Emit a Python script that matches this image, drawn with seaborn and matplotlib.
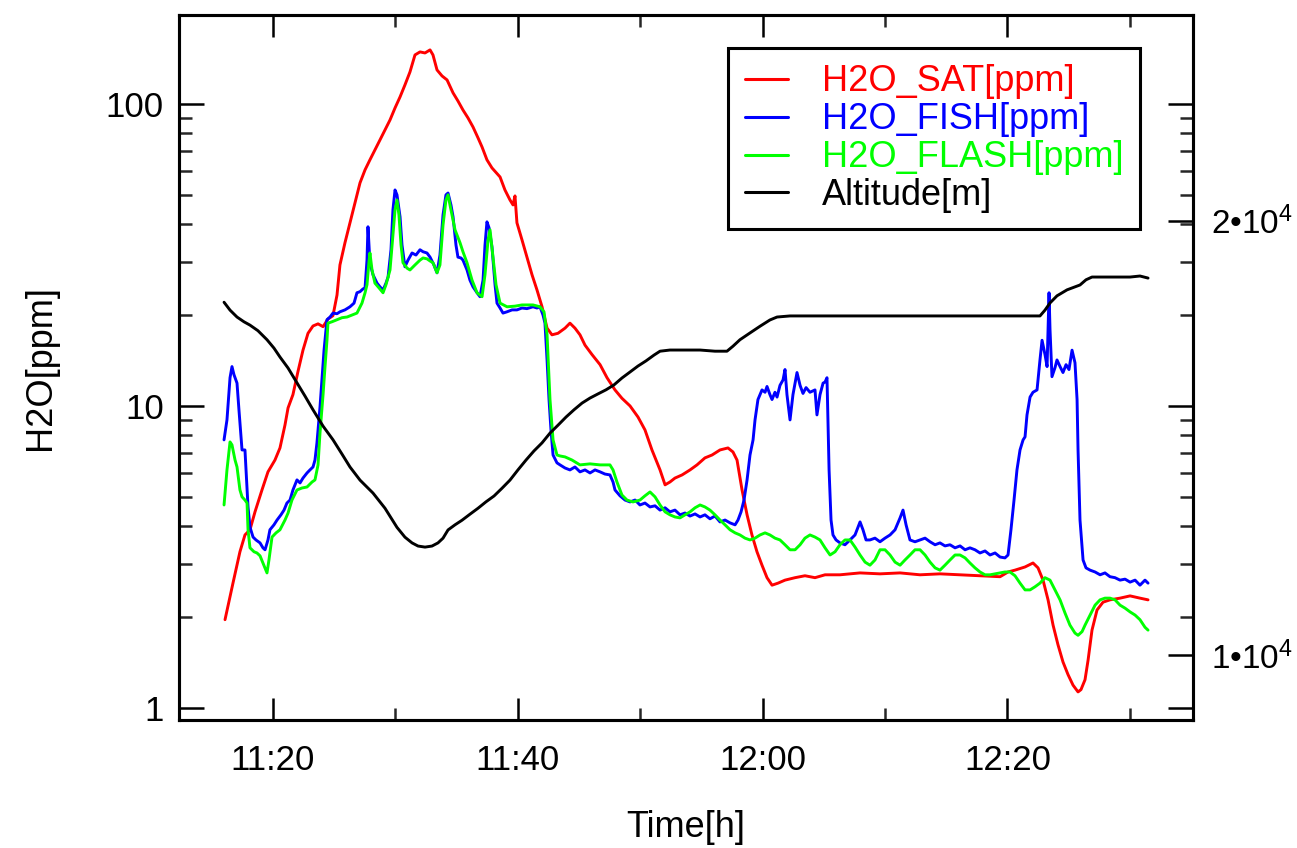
import matplotlib
matplotlib.use("Agg")
import matplotlib.pyplot as plt
from matplotlib.ticker import FixedLocator, FuncFormatter, FixedFormatter, NullLocator
import seaborn as sns

# ---- flight data: time in minutes after 11:00 ----
sat_min = [16.08, 16.73, 17.30, 17.71, 18.12, 18.53, 19.10, 19.59, 20.16, 20.57,
           20.98, 21.23, 21.63, 22.04, 22.45, 22.86, 23.27, 23.68, 24.09, 24.49,
           24.90, 25.23, 25.47, 25.88, 26.29, 26.70, 27.11, 27.52, 27.92, 28.33,
           28.74, 29.15, 29.56, 29.97, 30.38, 30.78, 31.19, 31.60, 32.01, 32.42,
           32.83, 33.07, 33.40, 33.81, 34.22, 34.71, 35.11, 35.52, 35.93, 36.34,
           36.75, 37.08, 37.48, 37.89, 38.55, 38.95, 39.36, 39.61, 39.77, 39.93,
           40.34, 40.75, 41.16, 41.57, 41.98, 42.39, 42.79, 43.28, 43.86, 44.26,
           44.67, 45.08, 45.49, 46.06, 46.72, 47.29, 47.94, 48.51, 49.17, 49.82,
           50.39, 50.96, 51.62, 52.03, 52.43, 52.84, 53.42, 54.07, 54.64, 55.29,
           55.87, 56.52, 57.17, 57.58, 57.91, 58.32, 58.73, 59.13, 59.54, 59.95,
           60.36, 60.77, 61.26, 61.83, 62.65, 63.46, 64.28, 65.10, 66.32, 67.96,
           69.59, 71.23, 72.86, 74.49, 76.13, 77.76, 79.40, 80.05, 80.62, 81.44,
           82.09, 82.50, 82.91, 83.32, 83.73, 84.13, 84.54, 84.95, 85.36, 85.77,
           86.01, 86.34, 86.59, 86.91, 87.32, 87.81, 88.38, 89.20, 90.02, 90.83,
           91.49]
sat_ppm = [1.96, 2.59, 3.29, 3.74, 3.89, 4.46, 5.27, 6.05, 6.62, 7.26,
           8.65, 9.85, 10.9, 13.0, 15.3, 17.4, 18.4, 18.7, 18.3, 19.4,
           19.9, 23.3, 29.3, 34.7, 40.4, 47.0, 54.8, 60.5, 65.3, 70.4,
           76.0, 82.0, 88.5, 97.0, 105.5, 115.6, 127.6, 145.3, 148.7, 147.5,
           151.0, 145.3, 129.6, 123.8, 120.1, 108.8, 102.3, 95.5, 89.9, 83.9,
           77.2, 72.0, 65.3, 61.4, 57.3, 51.9, 48.1, 46.3, 49.6, 40.4,
           35.5, 31.1, 27.2, 24.2, 21.3, 18.1, 17.2, 17.4, 18.1, 18.8,
           18.1, 17.2, 15.9, 14.8, 13.7, 12.4, 11.3, 10.6, 10.0, 9.19,
           8.33, 7.15, 6.14, 5.48, 5.60, 5.77, 5.91, 6.14, 6.38, 6.73,
           6.88, 7.15, 7.26, 7.04, 6.62, 5.27, 4.36, 3.74, 3.29, 2.97,
           2.70, 2.55, 2.59, 2.65, 2.70, 2.74, 2.70, 2.76, 2.76, 2.80,
           2.78, 2.80, 2.76, 2.78, 2.76, 2.74, 2.72, 2.82, 2.86, 2.93,
           3.02, 2.91, 2.65, 2.28, 1.88, 1.62, 1.42, 1.29, 1.19, 1.13,
           1.15, 1.24, 1.44, 1.81, 2.11, 2.24, 2.28, 2.31, 2.35, 2.31,
           2.28]

fish_min = [16.00, 16.24, 16.49, 16.65, 16.81, 17.06, 17.22, 17.47, 17.71, 17.96,
            18.12, 18.37, 18.61, 18.94, 19.18, 19.35, 19.59, 19.75, 20.08, 20.33,
            20.65, 20.90, 21.14, 21.39, 21.63, 21.96, 22.21, 22.45, 22.78, 23.02,
            23.27, 23.43, 23.59, 23.84, 24.00, 24.17, 24.41, 24.66, 24.90, 25.23,
            25.47, 25.88, 26.29, 26.62, 26.86, 27.11, 27.35, 27.52, 27.68, 27.76,
            27.84, 27.92, 28.17, 28.50, 28.74, 28.99, 29.23, 29.40, 29.64, 29.80,
            29.97, 30.13, 30.38, 30.54, 30.78, 31.03, 31.36, 31.68, 32.01, 32.26,
            32.58, 32.83, 33.15, 33.40, 33.64, 33.89, 34.13, 34.30, 34.54, 34.71,
            34.95, 35.11, 35.36, 35.52, 35.85, 36.09, 36.34, 36.67, 36.91, 37.16,
            37.32, 37.48, 37.65, 37.89, 38.14, 38.30, 38.55, 38.79, 39.12, 39.53,
            39.93, 40.34, 40.75, 41.24, 41.57, 41.81, 42.06, 42.22, 42.39, 42.55,
            42.71, 42.88, 43.20, 43.45, 43.86, 44.26, 44.67, 45.08, 45.49, 45.90,
            46.31, 46.72, 47.12, 47.53, 47.78, 47.94, 48.35, 48.76, 49.17, 49.58,
            49.98, 50.39, 50.80, 51.21, 51.62, 52.03, 52.43, 52.84, 53.25, 53.66,
            54.07, 54.48, 54.89, 55.29, 55.70, 56.11, 56.52, 56.93, 57.34, 57.75,
            57.99, 58.24, 58.48, 58.73, 58.97, 59.22, 59.38, 59.62, 59.95, 60.20,
            60.36, 60.60, 60.77, 61.01, 61.18, 61.42, 61.67, 61.83, 61.99, 62.24,
            62.48, 62.81, 63.06, 63.30, 63.55, 63.87, 64.28, 64.44, 64.69, 64.94,
            65.10, 65.26, 65.34, 65.43, 65.59, 65.75, 66.00, 66.32, 66.73, 67.14,
            67.55, 67.96, 68.20, 68.45, 68.77, 69.18, 69.59, 70.00, 70.41, 70.82,
            71.23, 71.47, 71.72, 72.04, 72.45, 72.86, 73.27, 73.68, 74.09, 74.49,
            74.90, 75.31, 75.72, 76.13, 76.54, 76.94, 77.35, 77.76, 78.17, 78.58,
            78.99, 79.40, 79.80, 80.05, 80.29, 80.54, 80.78, 81.03, 81.28, 81.44,
            81.60, 81.85, 82.09, 82.42, 82.66, 82.83, 83.07, 83.24, 83.40, 83.48,
            83.64, 83.89, 84.05, 84.30, 84.54, 84.79, 85.03, 85.28, 85.52, 85.69,
            85.77, 85.93, 86.18, 86.42, 86.75, 87.16, 87.57, 87.97, 88.38, 88.79,
            89.20, 89.61, 90.02, 90.43, 90.83, 91.24, 91.49]
fish_ppm = [7.72, 8.99, 12.4, 13.5, 12.7, 11.9, 9.70, 7.15, 7.15, 4.63,
            3.97, 3.68, 3.60, 3.52, 3.39, 3.34, 3.60, 3.89, 4.04, 4.19,
            4.36, 4.52, 4.77, 4.88, 5.27, 5.69, 5.56, 5.77, 6.00, 6.14,
            6.28, 6.62, 7.54, 9.92, 12.2, 15.3, 19.3, 19.7, 20.3, 20.2,
            20.5, 20.8, 21.3, 21.9, 23.7, 23.9, 24.4, 24.6, 30.4, 39.2,
            34.1, 29.8, 27.2, 25.5, 24.8, 24.2, 25.5, 26.7, 32.9, 44.6,
            51.9, 50.0, 42.3, 34.1, 28.9, 30.4, 32.1, 31.6, 32.9, 32.4,
            32.1, 31.1, 29.3, 27.6, 31.6, 42.9, 50.0, 50.7, 46.3, 42.3,
            34.1, 31.1, 30.9, 30.4, 28.2, 26.1, 24.8, 23.7, 23.0, 26.1,
            34.1, 40.7, 38.9, 33.6, 25.2, 21.9, 21.1, 20.3, 20.5, 20.8,
            20.8, 21.1, 21.0, 21.3, 21.1, 21.3, 20.0, 18.8, 14.2, 10.5,
            8.33, 6.88, 6.48, 6.38, 6.23, 6.14, 6.28, 6.05, 6.14, 6.00,
            6.14, 6.05, 5.95, 5.91, 5.60, 5.27, 5.04, 4.88, 4.81, 4.88,
            4.70, 4.77, 4.63, 4.67, 4.52, 4.60, 4.46, 4.52, 4.36, 4.42,
            4.32, 4.39, 4.29, 4.36, 4.23, 4.32, 4.13, 4.19, 4.10, 4.04,
            4.19, 4.46, 4.88, 5.69, 6.88, 7.72, 8.99, 10.5, 11.3, 11.1,
            11.6, 10.9, 10.5, 11.1, 10.7, 11.7, 12.2, 13.2, 10.9, 8.99,
            10.9, 12.9, 11.7, 11.0, 11.5, 11.1, 11.3, 9.34, 10.9, 11.9,
            12.0, 12.4, 8.99, 6.14, 4.19, 3.74, 3.60, 3.52, 3.47, 3.60,
            3.74, 4.13, 3.89, 3.60, 3.60, 3.65, 3.55, 3.65, 3.74, 3.89,
            4.26, 4.52, 4.04, 3.60, 3.55, 3.60, 3.65, 3.55, 3.47, 3.52,
            3.44, 3.47, 3.39, 3.44, 3.34, 3.39, 3.34, 3.26, 3.31, 3.21,
            3.26, 3.16, 3.14, 3.21, 3.89, 4.88, 6.14, 7.15, 7.72, 7.90,
            9.34, 10.7, 11.1, 11.3, 14.2, 16.5, 14.8, 13.5, 23.7, 17.9,
            12.5, 13.4, 14.2, 13.5, 12.9, 13.7, 13.2, 15.3, 13.9, 10.5,
            7.15, 4.19, 3.09, 2.91, 2.86, 2.82, 2.76, 2.80, 2.72, 2.70,
            2.65, 2.67, 2.61, 2.65, 2.55, 2.65, 2.59]

flash_min = [16.00, 16.24, 16.49, 16.65, 16.90, 17.06, 17.30, 17.47, 17.71, 17.88,
             17.96, 18.12, 18.45, 18.69, 18.94, 19.18, 19.35, 19.51, 19.67, 19.92,
             20.25, 20.57, 20.98, 21.23, 21.55, 21.96, 22.37, 22.78, 23.19, 23.43,
             23.68, 23.84, 24.09, 24.25, 24.41, 24.49, 24.82, 25.23, 25.64, 26.05,
             26.45, 26.86, 27.27, 27.52, 27.68, 27.84, 27.92, 28.09, 28.33, 28.66,
             28.99, 29.23, 29.56, 29.80, 29.97, 30.13, 30.29, 30.46, 30.62, 30.95,
             31.19, 31.60, 32.01, 32.26, 32.58, 32.83, 33.07, 33.40, 33.64, 33.89,
             34.13, 34.30, 34.54, 34.87, 35.28, 35.52, 35.85, 36.26, 36.67, 37.08,
             37.32, 37.57, 37.73, 37.97, 38.22, 38.55, 39.12, 39.77, 40.34, 40.75,
             41.24, 41.81, 42.14, 42.39, 42.63, 42.88, 43.20, 43.45, 43.86, 44.43,
             45.08, 45.90, 46.72, 47.53, 47.78, 48.10, 48.51, 48.92, 49.41, 49.98,
             50.39, 50.80, 51.21, 51.62, 52.03, 52.43, 52.84, 53.25, 53.66, 54.07,
             54.48, 54.89, 55.29, 55.70, 56.11, 56.52, 56.93, 57.34, 57.75, 58.15,
             58.56, 58.97, 59.38, 59.79, 60.20, 60.60, 61.01, 61.42, 61.83, 62.24,
             62.65, 63.06, 63.46, 63.87, 64.28, 64.69, 65.10, 65.51, 65.92, 66.32,
             66.73, 67.14, 67.55, 67.96, 68.37, 68.77, 69.18, 69.59, 70.00, 70.41,
             70.82, 71.23, 71.63, 72.04, 72.45, 72.86, 73.27, 73.68, 74.09, 74.49,
             74.90, 75.31, 75.72, 76.13, 76.54, 76.94, 77.35, 77.76, 78.17, 78.58,
             78.99, 79.40, 79.80, 80.21, 80.62, 81.03, 81.44, 81.85, 82.26, 82.66,
             83.07, 83.48, 83.89, 84.30, 84.71, 85.11, 85.52, 85.77, 86.10, 86.34,
             86.75, 87.16, 87.57, 87.97, 88.38, 88.79, 89.20, 89.61, 90.02, 90.43,
             90.83, 91.24, 91.49]
flash_ppm = [4.70, 6.14, 7.60, 7.43, 6.62, 6.28, 5.27, 5.00, 4.88, 4.77,
             3.89, 3.39, 3.29, 3.26, 3.19, 3.02, 2.91, 2.80, 3.09, 3.68,
             3.80, 3.89, 4.19, 4.42, 4.88, 5.27, 5.35, 5.39, 5.60, 5.69,
             6.38, 8.14, 10.9, 13.5, 16.5, 18.8, 19.0, 19.3, 19.6, 19.7,
             20.0, 20.3, 21.9, 23.7, 25.2, 30.0, 32.1, 28.2, 25.5, 24.6,
             23.7, 25.2, 28.2, 36.8, 44.6, 48.1, 42.9, 34.1, 29.8, 28.6,
             28.2, 29.3, 30.4, 30.9, 30.7, 30.2, 29.8, 27.6, 29.3, 39.7,
             48.1, 50.0, 44.6, 38.3, 34.7, 32.4, 29.8, 26.1, 23.7, 23.0,
             27.2, 35.5, 38.3, 31.1, 25.2, 21.9, 21.3, 21.4, 21.6, 21.6,
             21.6, 21.3, 20.5, 17.2, 10.5, 7.72, 6.88, 6.83, 6.78, 6.62,
             6.38, 6.43, 6.38, 6.38, 6.14, 5.60, 5.07, 4.88, 4.81, 4.88,
             5.04, 5.19, 5.00, 4.70, 4.46, 4.36, 4.29, 4.26, 4.36, 4.46,
             4.60, 4.70, 4.63, 4.52, 4.36, 4.19, 4.04, 3.89, 3.80, 3.74,
             3.65, 3.60, 3.65, 3.74, 3.80, 3.74, 3.65, 3.60, 3.47, 3.34,
             3.34, 3.47, 3.65, 3.74, 3.68, 3.60, 3.39, 3.21, 3.29, 3.47,
             3.60, 3.60, 3.41, 3.21, 3.04, 2.97, 3.09, 3.34, 3.34, 3.21,
             3.04, 2.97, 3.09, 3.21, 3.34, 3.34, 3.21, 3.04, 2.91, 2.86,
             2.97, 3.09, 3.21, 3.21, 3.14, 3.02, 2.91, 2.82, 2.76, 2.76,
             2.78, 2.80, 2.82, 2.82, 2.74, 2.59, 2.46, 2.46, 2.52, 2.59,
             2.70, 2.65, 2.46, 2.28, 2.06, 1.88, 1.77, 1.74, 1.79, 1.88,
             2.03, 2.19, 2.28, 2.31, 2.31, 2.28, 2.19, 2.14, 2.08, 2.03,
             1.96, 1.85, 1.81]

alt_min = [16.00, 16.49, 17.06, 17.63, 18.12, 18.77, 19.51, 20.08, 20.57, 21.23,
           21.96, 22.61, 23.27, 24.09, 24.90, 25.64, 26.29, 27.11, 28.17, 29.15,
           30.13, 30.78, 31.36, 31.85, 32.42, 32.99, 33.48, 33.89, 34.30, 34.87,
           35.44, 36.09, 36.75, 37.40, 38.06, 38.71, 39.36, 40.02, 40.67, 41.32,
           41.98, 42.63, 43.28, 43.94, 44.59, 45.25, 45.90, 46.55, 47.21, 47.86,
           48.51, 49.17, 49.82, 50.47, 51.13, 51.62, 52.43, 53.66, 54.89, 56.11,
           57.09, 57.58, 58.15, 58.97, 59.79, 60.60, 61.18, 62.24, 64.69, 67.96,
           71.23, 74.49, 77.76, 81.03, 82.66, 83.07, 83.48, 84.05, 84.87, 85.93,
           86.42, 86.91, 88.38, 90.02, 90.83, 91.49]
alt_m = [17560, 17340, 17150, 17020, 16930, 16780, 16540, 16320, 16090, 15810,
         15440, 15120, 14790, 14410, 14100, 13780, 13500, 13220, 12950, 12640,
         12260, 12070, 11960, 11900, 11880, 11900, 11960, 12050, 12210, 12310,
         12400, 12520, 12640, 12770, 12890, 13050, 13220, 13440, 13650, 13850,
         14030, 14250, 14430, 14620, 14790, 14950, 15070, 15170, 15270, 15390,
         15560, 15710, 15860, 15990, 16140, 16240, 16270, 16270, 16270, 16240,
         16240, 16370, 16540, 16720, 16900, 17070, 17150, 17180, 17180, 17180,
         17180, 17180, 17180, 17180, 17180, 17340, 17540, 17740, 17910, 18050,
         18200, 18280, 18280, 18280, 18310, 18250]

series_labels = ["H2O_SAT[ppm]", "H2O_FISH[ppm]", "H2O_FLASH[ppm]", "Altitude[m]"]
series_colors = ["#ff0000", "#0000ff", "#00ff00", "#000000"]
time_ticks = [20, 40, 60, 80]
time_minor = [30, 50, 70, 90]
ppm_ticks = [1, 10, 100]
alt_ticks = [1e4, 2e4]
alt_tick_labels = ["1\u202210$^{4}$", "2\u202210$^{4}$"]

# ---- style ----
sns.set_theme(style="white")
plt.rcParams["font.family"] = ["Liberation Sans", "DejaVu Sans"]
plt.rcParams["mathtext.fontset"] = "custom"
plt.rcParams["mathtext.rm"] = "Liberation Sans"
plt.rcParams["mathtext.default"] = "regular"

FS = 25
LW = 2.1

fig = plt.figure(figsize=(12.97, 8.48), dpi=100)
ax = fig.add_axes([0.1380, 0.1509, 0.7818, 0.8314])
ax2 = ax.twinx()

sns.lineplot(x=sat_min, y=sat_ppm, ax=ax, color=series_colors[0], lw=LW,
             label=series_labels[0], estimator=None, sort=False)
sns.lineplot(x=fish_min, y=fish_ppm, ax=ax, color=series_colors[1], lw=LW,
             label=series_labels[1], estimator=None, sort=False)
sns.lineplot(x=flash_min, y=flash_ppm, ax=ax, color=series_colors[2], lw=LW,
             label=series_labels[2], estimator=None, sort=False)
sns.lineplot(x=alt_min, y=alt_m, ax=ax2, color=series_colors[3], lw=LW,
             label=series_labels[3], estimator=None, sort=False)

# left axis: water vapour, logarithmic
ax.set_yscale("log")
ax.set_ylim(0.912, 197)
ax.set_xlim(12.32, 95.16)
ax.yaxis.set_major_locator(FixedLocator(ppm_ticks))
ax.yaxis.set_major_formatter(FuncFormatter(lambda v, p: f"{v:g}"))
minor_ppm = [m * d for d in (1, 10, 100) for m in range(2, 10)]
ax.yaxis.set_minor_locator(FixedLocator(minor_ppm))
ax.yaxis.set_minor_formatter(FuncFormatter(lambda v, p: ""))

ax.xaxis.set_major_locator(FixedLocator(time_ticks))
ax.xaxis.set_minor_locator(FixedLocator(time_minor))
ax.xaxis.set_major_formatter(
    FuncFormatter(lambda m, p: f"{11 + int(m) // 60}:{int(m) % 60:02d}"))

ax.tick_params(axis="y", which="major", direction="in", length=18, width=1.8,
               labelsize=FS, pad=11, left=True, right=True, colors="black")
ax.tick_params(axis="y", which="minor", direction="in", length=9.5, width=1.8,
               left=True, right=True)
ax.tick_params(axis="x", which="major", direction="in", length=16, width=1.8,
               labelsize=FS, pad=17, bottom=True, top=True, colors="black")
ax.tick_params(axis="x", which="minor", direction="in", length=8.5, width=1.8,
               bottom=True, top=True)

ax.set_ylabel("H2O[ppm]", fontsize=26, labelpad=34, color="black")
ax.set_xlabel("Time[h]", fontsize=26, labelpad=24, color="black")

# right axis: altitude
ax2.set_yscale("log")
ax2.set_ylim(9015, 27770)
ax2.yaxis.set_major_locator(FixedLocator(alt_ticks))
ax2.yaxis.set_major_formatter(FixedFormatter(alt_tick_labels))
ax2.yaxis.set_minor_locator(NullLocator())
ax2.tick_params(axis="y", which="major", direction="in", length=18, width=1.8,
                labelsize=24, pad=13, left=False, right=True, colors="black")
ax2.set_ylabel("")

for a in (ax, ax2):
    for s in a.spines.values():
        s.set_linewidth(2.2)
        s.set_color("black")
        s.set_visible(True)
ax.grid(False)
ax2.grid(False)

# legend with coloured entries
h1, l1 = ax.get_legend_handles_labels()
h2, l2 = ax2.get_legend_handles_labels()
if ax.get_legend() is not None:
    ax.get_legend().remove()
if ax2.get_legend() is not None:
    ax2.get_legend().remove()
handles = h1 + h2
labels = l1 + l2
leg = ax2.legend(handles, labels, loc="upper right", bbox_to_anchor=(0.948, 0.953),
                 frameon=True, fancybox=False, edgecolor="black", framealpha=1,
                 fontsize=26, handlelength=1.2, handletextpad=0.95,
                 labelspacing=0.08, borderpad=0.45, borderaxespad=0)
leg.get_frame().set_linewidth(2.2)
for txt, col in zip(leg.get_texts(), series_colors):
    txt.set_color(col)
for ln in leg.get_lines():
    ln.set_linewidth(2.2)

fig.savefig("out.png", dpi=100)
